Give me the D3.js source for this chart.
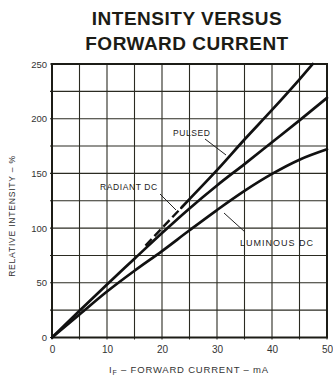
<!DOCTYPE html>
<html><head><meta charset="utf-8">
<script src="https://cdn.jsdelivr.net/npm/d3@7/dist/d3.min.js"></script>
<style>
html,body{margin:0;padding:0;background:#fff;}
svg{display:block;}
</style></head>
<body>
<script>
// ---- data ----
const xTicks = [0, 10, 20, 30, 40, 50];
const yTicks = [0, 50, 100, 150, 200, 250];
const xGrid = [0, 5, 10, 15, 20, 25, 30, 35, 40, 45, 50];
const yGrid = [0, 25, 50, 75, 100, 125, 150, 175, 200, 225, 250];

const radiantI = [0, 5, 10, 15, 20, 25, 30, 35, 40, 45, 50];
const radiantV = [0, 24.5, 48.5, 72, 95.5, 118, 139, 158.5, 178.5, 198.5, 219];

const luminousI = [0, 5, 10, 15, 20, 25, 30, 35, 40, 45, 50];
const luminousV = [0, 21, 42, 61, 79, 98, 116.5, 134, 149.5, 162.5, 172];

const pulsedDashI = [17, 20, 23.5];
const pulsedDashV = [84, 100, 118.5];
const pulsedI = [23.5, 25, 30, 35, 40, 45, 47.4];
const pulsedV = [118.5, 126.5, 153, 181, 208, 236, 250];

const W = 333, H = 379;
const svg = d3.select("body").append("svg").attr("width", W).attr("height", H);

const x = d3.scaleLinear().domain([0, 50]).range([52, 327]);
const y = d3.scaleLinear().domain([0, 250]).range([337.5, 64]);

const ink = "#1c1c16";
const font = "'Liberation Sans', Arial, sans-serif";

// title
svg.append("text").attr("x", 187).attr("y", 25).attr("text-anchor", "middle")
  .attr("font-family", font).attr("font-weight", "bold").attr("font-size", 19)
  .attr("letter-spacing", 0.5).attr("fill", ink).text("INTENSITY VERSUS");
svg.append("text").attr("x", 187).attr("y", 50).attr("text-anchor", "middle")
  .attr("font-family", font).attr("font-weight", "bold").attr("font-size", 19)
  .attr("letter-spacing", 0.5).attr("fill", ink).text("FORWARD CURRENT");

// grid
const g = svg.append("g");
g.selectAll("line.vx").data(xGrid).join("line")
  .attr("x1", d => x(d)).attr("x2", d => x(d))
  .attr("y1", y(250)).attr("y2", y(0) + 2)
  .attr("stroke", "#2b2b22").attr("stroke-width", 1.1);
g.selectAll("line.hy").data(yGrid).join("line")
  .attr("y1", d => y(d)).attr("y2", d => y(d))
  .attr("x1", x(0) - 2).attr("x2", x(50))
  .attr("stroke", "#2b2b22").attr("stroke-width", 1.1);

// frame
g.append("rect").attr("x", x(0)).attr("y", y(250))
  .attr("width", x(50) - x(0)).attr("height", y(0) - y(250))
  .attr("fill", "none").attr("stroke", ink).attr("stroke-width", 2);

// axes (labels only, via d3 axes)
const xAxis = svg.append("g").attr("transform", `translate(0,${y(0) + 3})`)
  .call(d3.axisBottom(x).tickValues(xTicks).tickSize(0).tickPadding(5));
xAxis.select(".domain").remove();
xAxis.selectAll("text").attr("font-family", font).attr("font-size", 10).attr("fill", "#333");

const yAxis = svg.append("g").attr("transform", `translate(${x(0) - 3},0)`)
  .call(d3.axisLeft(y).tickValues(yTicks).tickSize(0).tickPadding(2));
yAxis.select(".domain").remove();
yAxis.selectAll("text").attr("font-family", font).attr("font-size", 9.5).attr("fill", "#333");

// axis titles
const xt = svg.append("text").attr("x", 189).attr("y", 373).attr("text-anchor", "middle")
  .attr("font-family", font).attr("font-size", 9.5).attr("letter-spacing", 0.8).attr("fill", "#333");
xt.append("tspan").text("I");
xt.append("tspan").attr("font-size", 7).attr("dy", 2).text("F");
xt.append("tspan").attr("dy", -2).text(" – FORWARD CURRENT – mA");

svg.append("text").attr("transform", "translate(15,216) rotate(-90)")
  .attr("text-anchor", "middle").attr("font-family", font).attr("font-size", 8.5)
  .attr("letter-spacing", 0.8).attr("fill", "#333").text("RELATIVE INTENSITY – %");

// curves
const line = d3.line().x(d => x(d[0])).y(d => y(d[1])).curve(d3.curveMonotoneX);
const zip = (a, b) => a.map((v, i) => [v, b[i]]);

const curves = svg.append("g").attr("fill", "none").attr("stroke", "#111")
  .attr("stroke-linecap", "round").attr("stroke-linejoin", "round");
curves.append("path").attr("d", line(zip(radiantI, radiantV))).attr("stroke-width", 2.7);
curves.append("path").attr("d", line(zip(luminousI, luminousV))).attr("stroke-width", 2.7);
curves.append("path").attr("d", line(zip(pulsedI, pulsedV))).attr("stroke-width", 2.7);
curves.append("path").attr("d", line(zip(pulsedDashI, pulsedDashV))).attr("stroke-width", 2.4)
  .attr("stroke-linecap", "butt").attr("stroke-dasharray", "9,4");

// annotations
const ann = svg.append("g").attr("font-family", font).attr("font-size", 8.5)
  .attr("letter-spacing", 0.6).attr("fill", "#222");
ann.append("text").attr("x", 173).attr("y", 136).text("PULSED");
ann.append("text").attr("x", 100).attr("y", 190).text("RADIANT DC");
ann.append("text").attr("x", 240).attr("y", 246).attr("letter-spacing", 1).attr("font-size", 9).text("LUMINOUS DC");

const arrows = svg.append("g").attr("stroke", "#222").attr("stroke-width", 1);
arrows.append("line").attr("x1", 205).attr("y1", 139).attr("x2", 226).attr("y2", 155);
arrows.append("line").attr("x1", 160).attr("y1", 194).attr("x2", 176).attr("y2", 210);
arrows.append("line").attr("x1", 245).attr("y1", 232).attr("x2", 224).attr("y2", 213);
</script>
</body></html>
